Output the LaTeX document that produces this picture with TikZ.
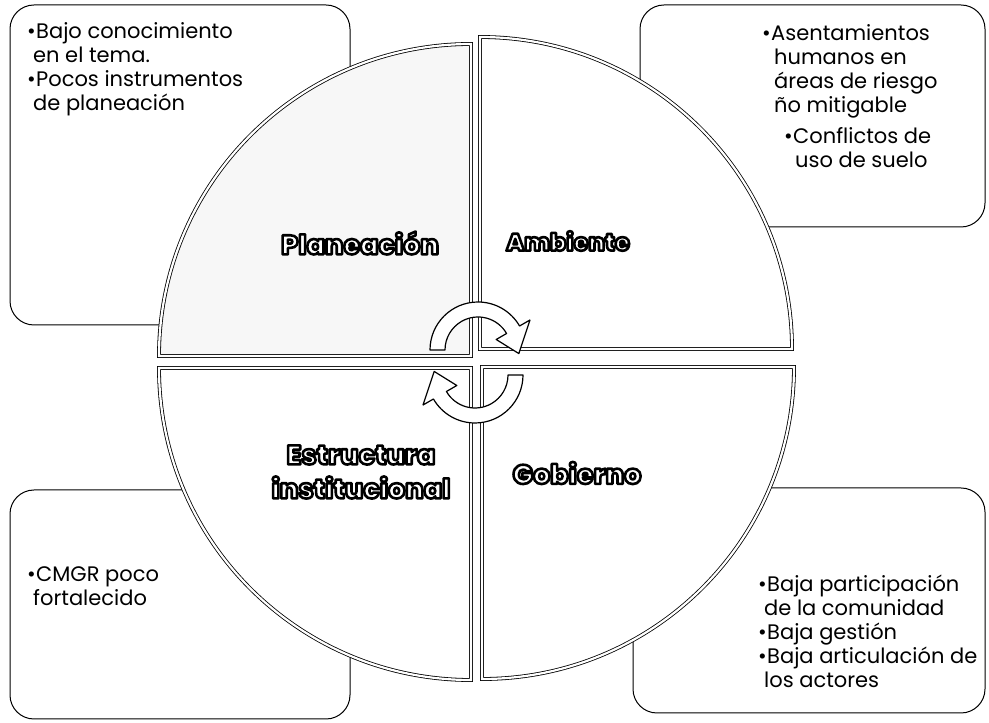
\documentclass[tikz,border=0pt]{standalone}
\usepackage{fontspec}
\setmainfont{Poppins}[BoldFont = * ExtraBold]
% white letters with a black rim (stroke and fill render mode)
\newcommand{\seglabel}[1]{\special{pdf:literal direct 2 Tr 2.6 w 1 j 1 g 0 G}#1\special{pdf:literal direct 0 Tr 0 g}}
\newcommand{\bul}{\makebox[9pt][l]{\textbullet}}
\newcommand{\ind}{\hspace*{6pt}}

\tikzset{
  box/.style={draw, line width=1pt, rounded corners=24pt},
  quad/.style={draw, fill=white, line width=0.8pt, double=white, double distance=2.2pt},
  turn/.style={draw, fill=white, line width=1.2pt, line join=round},
  txt/.style={align=left, anchor=north west, inner sep=0pt, font=\fontsize{21}{24}\selectfont},
  seg/.style={align=center, font=\fontsize{27}{34}\selectfont\bfseries}
}

\begin{document}
\begin{tikzpicture}[x=1pt, y=1pt]
\useasboundingbox (0,0) rectangle (989,723);
% boxes behind the circle
\draw[box] (10,398) rectangle (350,718);
\draw[box] (640,496) rectangle (985,718);
\draw[box] (10,4) rectangle (350,233);
\draw[box] (633,10) rectangle (985,235);
% four quarters
\filldraw[quad, fill=black!3] (471,367) -- ++(-312,0) arc[start angle=180, end angle=90, radius=312] -- cycle;
\filldraw[quad] (480,374) -- ++(0,312) arc[start angle=90, end angle=0, radius=312] -- cycle;
\filldraw[quad] (471,355) -- ++(-312,0) arc[start angle=180, end angle=270, radius=312] -- cycle;
\filldraw[quad] (482,356) -- ++(312,0) arc[start angle=0, end angle=-90, radius=312] -- cycle;
% turning arrows
\begin{scope}[shift={(478,373)}]
\draw[turn] (180:48) arc[start angle=180, end angle=30, radius=48] -- (30:60) -- (-5:41) -- (30:21) -- (30:33) arc[start angle=30, end angle=180, radius=33] -- cycle;
\end{scope}
\begin{scope}[shift={(475,348)}]
\draw[turn] (0:48) arc[start angle=0, end angle=-150, radius=48] -- (-150:60) -- (175:41) -- (-150:21) -- (-150:33) arc[start angle=-150, end angle=0, radius=33] -- cycle;
\end{scope}
% labels
\node[seg] (planeacion) at (360,480) {\seglabel{Planeación}};
\node[seg, font=\fontsize{24}{30}\selectfont\bfseries] (ambiente) at (568,482) {\seglabel{Ambiente}};
\node[seg] (estructura) at (361,251) {\seglabel{Estructura}\\\seglabel{institucional}};
\node[seg] (gobierno) at (577,250) {\seglabel{Gobierno}};
% texts
\node[txt] (tltext) at (27,701) {\bul Bajo conocimiento\\\ind en el tema.\\\bul Pocos instrumentos\\\ind de planeación};
\node[txt] (trtext) at (762,699) {\bul Asentamientos\\\hspace*{12pt}humanos en\\\hspace*{12pt}áreas de riesgo\\\hspace*{12pt}ño mitigable\\[7pt]\hspace*{22pt}\bul Conflictos de\\\hspace*{33pt}uso de suelo};
\node[txt] (bltext) at (27,157) {\bul CMGR poco\\\ind fortalecido};
\node[txt] (brtext) at (758,148) {\bul Baja participación\\\ind de la comunidad\\\bul Baja gestión\\\bul Baja articulación de\\\ind los actores};
\end{tikzpicture}
\end{document}
